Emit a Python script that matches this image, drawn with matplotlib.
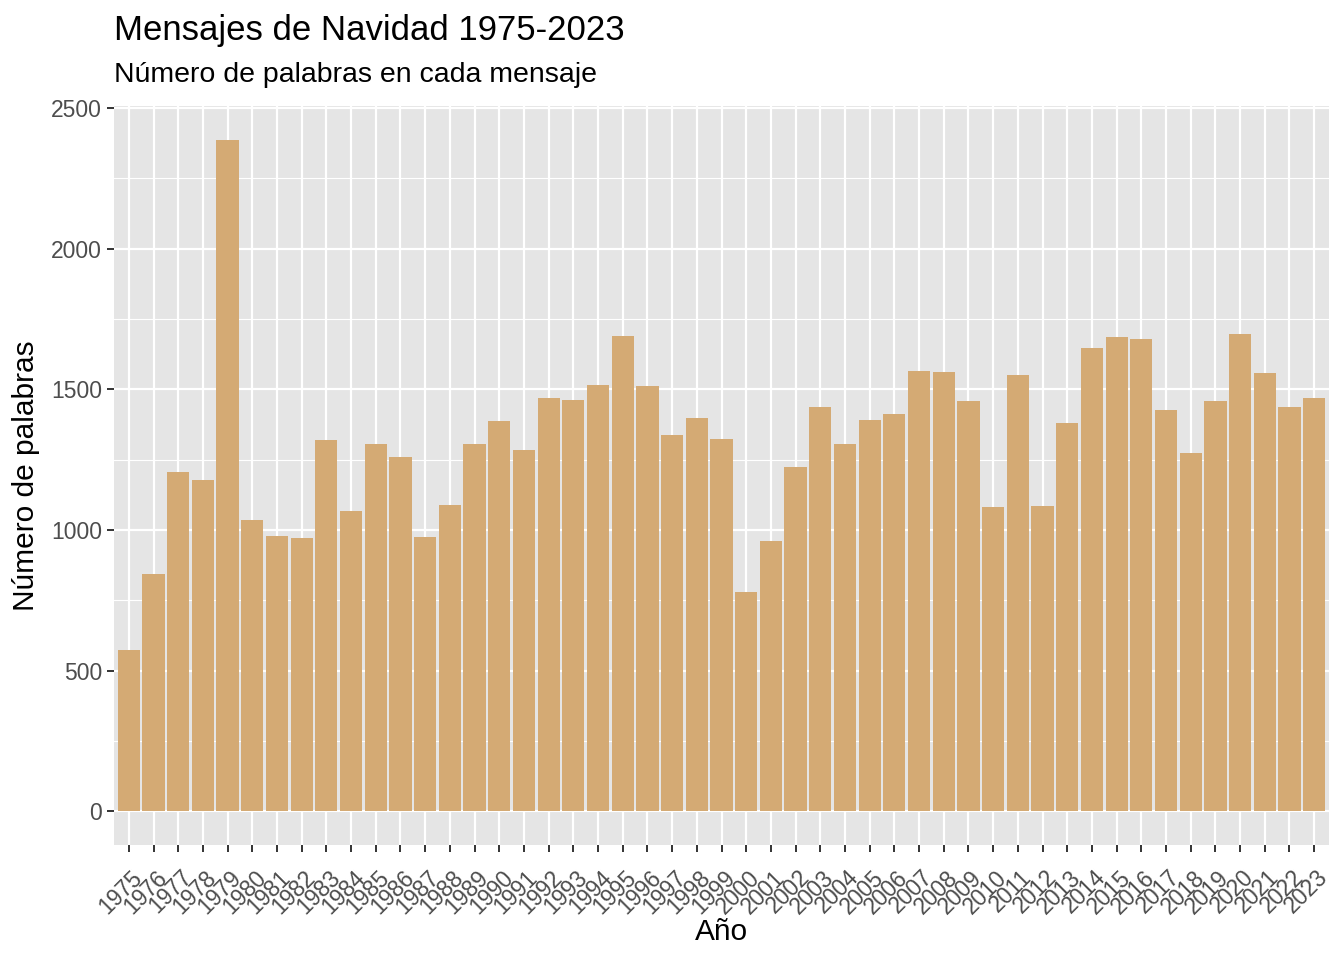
import matplotlib
matplotlib.use("Agg")
import matplotlib.pyplot as plt
from matplotlib.ticker import MultipleLocator
from matplotlib.transforms import ScaledTranslation

# -------------------------------------------------
# Datos: palabras por mensaje de Navidad
# -------------------------------------------------
anios = list(range(1975, 2024))
palabras = [
    572, 845, 1205, 1178, 2387, 1036, 979, 972, 1319, 1068,
    1305, 1258, 976, 1089, 1305, 1386, 1283, 1468, 1461, 1516,
    1690, 1510, 1336, 1397, 1322, 778, 962, 1224, 1436, 1306,
    1390, 1411, 1566, 1560, 1457, 1082, 1549, 1086, 1379, 1645,
    1684, 1680, 1425, 1273, 1457, 1698, 1556, 1436, 1468,
]

TITULO = "Mensajes de Navidad 1975-2023"
SUBTITULO = "Número de palabras en cada mensaje"

plt.rcParams["font.family"] = ["Liberation Sans", "DejaVu Sans"]

W, H = 1344, 960
fig = plt.figure(figsize=(W / 100, H / 100), dpi=100)
ax_left, ax_right, ax_top, ax_bottom = 114, 1329, 106, 845
ax = fig.add_axes([ax_left / W, (H - ax_bottom) / H,
                   (ax_right - ax_left) / W, (ax_bottom - ax_top) / H])

x = list(range(1, len(anios) + 1))
ax.bar(x, palabras, width=0.9, color="#D4AA74", zorder=2)

# estilo tipo theme_gray de ggplot
ax.set_facecolor("#E5E5E5")
for s in ax.spines.values():
    s.set_visible(False)
ax.yaxis.set_major_locator(MultipleLocator(500))
ax.yaxis.set_minor_locator(MultipleLocator(250))
ax.grid(True, which="major", axis="both", color="white", linewidth=1.6, zorder=0)
ax.grid(True, which="minor", axis="y", color="white", linewidth=0.8, zorder=0)
ax.set_axisbelow(True)

ymax = max(palabras)
ax.set_ylim(-0.05 * ymax, ymax * 1.05)
ax.set_xlim(0.4, len(anios) + 0.6)

ax.set_xticks(x)
ax.set_xticklabels([str(a) for a in anios], rotation=45, ha="right",
                   va="top", rotation_mode="anchor")
ax.tick_params(axis="both", which="major", length=5, width=1.4, color="#333333",
               labelcolor="#4D4D4D", labelsize=16.5)
ax.tick_params(axis="y", which="minor", length=0)
ax.tick_params(axis="x", pad=10)

# desplazar etiquetas del eje x un poco a la derecha (como ggplot)
desplaza = ScaledTranslation(2 / 100, 0, fig.dpi_scale_trans)
for lbl in ax.get_xticklabels():
    lbl.set_transform(lbl.get_transform() + desplaza)

ax.set_xlabel("Año", fontsize=21.5)
ax.xaxis.label.set_va("baseline")
ax.xaxis.set_label_coords(0.5, (ax_bottom - 940) / (ax_bottom - ax_top))
ax.set_ylabel("Número de palabras", fontsize=21.5, labelpad=8)

fig.text(ax_left / W, 1 - 40 / H, TITULO, fontsize=25, ha="left", va="baseline")
fig.text(ax_left / W, 1 - 82 / H, SUBTITULO, fontsize=20.5, ha="left", va="baseline")

fig.savefig("out.png", dpi=100)
